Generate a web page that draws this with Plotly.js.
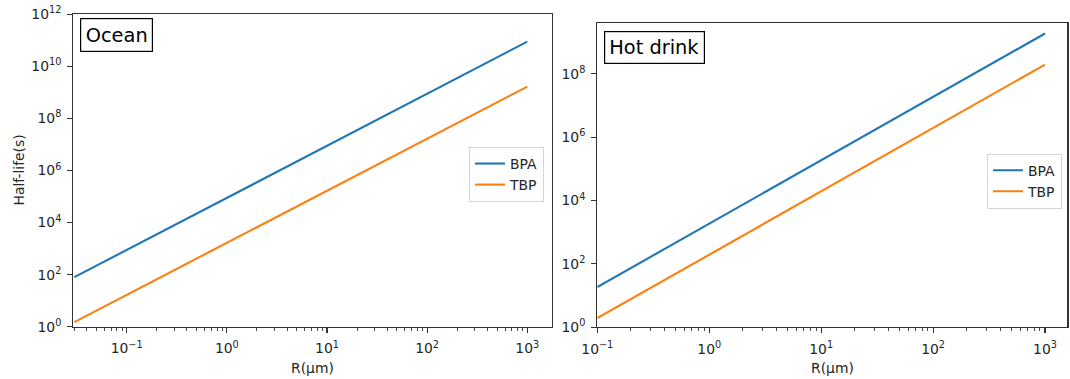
<!DOCTYPE html>
<html>
<head>
<meta charset="utf-8">
<script src="https://cdn.plot.ly/plotly-3.0.1.min.js"></script>
<style>html,body{margin:0;padding:0;background:#fff;}#chart{width:1070px;height:379px;}</style>
</head>
<body>
<div id="chart"></div>
<script>
// ---- data ----
const oceanR   = [0.03, 0.1, 1, 10, 100, 1000];
const oceanBPA = [80, 890, 8.9e4, 8.9e6, 8.9e8, 8.9e10];
const oceanTBP = [1.5, 16.6, 1660, 1.66e5, 1.66e7, 1.66e9];

const hotR   = [0.1, 1, 10, 100, 1000];
const hotBPA = [18.6, 1860, 1.86e5, 1.86e7, 1.86e9];
const hotTBP = [1.95, 195, 1.95e4, 1.95e6, 1.95e8];

const seriesNames = ["BPA", "TBP"];
const panelTitles = ["Ocean", "Hot drink"];
const xTitle = "R(μm)";
const yTitle = "Half-life(s)";

const xMajor = [0.1, 1, 10, 100, 1000];
const xMajorText = ["10<sup>−1</sup>", "10<sup>0</sup>", "10<sup>1</sup>", "10<sup>2</sup>", "10<sup>3</sup>"];
const yMajorLeft = [1, 1e2, 1e4, 1e6, 1e8, 1e10, 1e12];
const yMajorLeftText = ["10<sup>0</sup>", "10<sup>2</sup>", "10<sup>4</sup>", "10<sup>6</sup>", "10<sup>8</sup>", "10<sup>10</sup>", "10<sup>12</sup>"];
const yMajorRight = [1, 1e2, 1e4, 1e6, 1e8];
const yMajorRightText = ["10<sup>0</sup>", "10<sup>2</sup>", "10<sup>4</sup>", "10<sup>6</sup>", "10<sup>8</sup>"];

// minor ticks 2..9 in each decade
const xMinor = [];
for (let e = -2; e <= 3; e++) for (let k = 2; k <= 9; k++) xMinor.push(k * Math.pow(10, e));

const colors = ["#1f77b4", "#ff7f0e"];
const FONT = "DejaVu Sans, sans-serif";
const TXT = "#262626";
const W = 1070, H = 379;

function tr(x, y, i, xa, ya, lg) {
  return {x: x, y: y, type: "scatter", mode: "lines", name: seriesNames[i],
          xaxis: xa, yaxis: ya, legend: lg,
          line: {color: colors[i], width: 2.1}, hoverinfo: "skip"};
}
const data = [
  tr(oceanR, oceanBPA, 0, "x", "y", "legend"),
  tr(oceanR, oceanTBP, 1, "x", "y", "legend"),
  tr(hotR, hotBPA, 0, "x2", "y2", "legend2"),
  tr(hotR, hotTBP, 1, "x2", "y2", "legend2")
];

function xaxis(dom, range, anchor) {
  return {domain: dom, range: range, type: "log", anchor: anchor,
    showgrid: false, zeroline: false, showline: true, mirror: true,
    linecolor: "#333", linewidth: 1.1,
    ticks: "outside", ticklen: 5, tickwidth: 1.1, tickcolor: "#333",
    ticklabelstandoff: 4,
    tickmode: "array", tickvals: xMajor, ticktext: xMajorText,
    tickfont: {family: FONT, size: 13.9, color: TXT},
    minor: {tickmode: "array", tickvals: xMinor, ticks: "outside", ticklen: 3, tickwidth: 0.9, tickcolor: "#333", showgrid: false},
    automargin: false};
}
function yaxis(dom, range, anchor, vals, txt) {
  return {domain: dom, range: range, type: "log", anchor: anchor,
    showgrid: false, zeroline: false, showline: true, mirror: true,
    linecolor: "#333", linewidth: 1.1,
    ticks: "outside", ticklen: 5, tickwidth: 1.1, tickcolor: "#333",
    ticklabelstandoff: 3,
    tickmode: "array", tickvals: vals, ticktext: txt,
    tickfont: {family: FONT, size: 13.9, color: TXT},
    automargin: false};
}

const axTitleFont = {family: FONT, size: 13.9, color: TXT};
const layout = {
  width: W, height: H,
  margin: {l: 0, r: 0, t: 0, b: 0},
  paper_bgcolor: "#fff", plot_bgcolor: "#fff",
  font: {family: FONT, color: TXT},
  showlegend: true,
  xaxis: xaxis([73.3 / W, 551.7 / W], [Math.log10(0.0293), 3.244], "y"),
  yaxis: yaxis([1 - 326.7 / H, 1 - 14.3 / H], [0, 12], "x", yMajorLeft, yMajorLeftText),
  xaxis2: xaxis([597.3 / W, 1067.4 / W], [-1, 3.2], "y2"),
  yaxis2: yaxis([1 - 327.3 / H, 1 - 22.7 / H], [0, 9.61], "x2", yMajorRight, yMajorRightText),
  legend: {x: 544 / W, y: 1 - 147 / H, xanchor: "right", yanchor: "top",
    bgcolor: "rgba(255,255,255,0.8)", bordercolor: "#d5d5d5", borderwidth: 1,
    font: {family: FONT, size: 13.9, color: TXT}},
  legend2: {x: 1062 / W, y: 1 - 153.7 / H, xanchor: "right", yanchor: "top",
    bgcolor: "rgba(255,255,255,0.8)", bordercolor: "#d5d5d5", borderwidth: 1,
    font: {family: FONT, size: 13.9, color: TXT}},
  annotations: [
    {text: panelTitles[0], xref: "paper", yref: "paper", x: 80 / W, y: 1 - 18.3 / H,
     xanchor: "left", yanchor: "top", showarrow: false,
     font: {family: FONT, size: 19.4, color: "#000"},
     bordercolor: "#000", borderwidth: 1.2, borderpad: 4.5, bgcolor: "#fff"},
    {text: panelTitles[1], xref: "paper", yref: "paper", x: 604 / W, y: 1 - 31.4 / H,
     xanchor: "left", yanchor: "top", showarrow: false,
     font: {family: FONT, size: 19.4, color: "#000"},
     bordercolor: "#000", borderwidth: 1.2, borderpad: 4, bgcolor: "#fff"},
    // axis titles
    {text: xTitle, xref: "paper", yref: "paper", x: (73.3 + 551.7) / 2 / W, y: 1 - 368 / H,
     xanchor: "center", yanchor: "middle", showarrow: false, font: axTitleFont},
    {text: xTitle, xref: "paper", yref: "paper", x: (597.3 + 1067.4) / 2 / W, y: 1 - 368 / H,
     xanchor: "center", yanchor: "middle", showarrow: false, font: axTitleFont},
    {text: yTitle, xref: "paper", yref: "paper", x: 18 / W, y: 1 - (14.3 + 326.7) / 2 / H,
     xanchor: "center", yanchor: "middle", showarrow: false, textangle: -90, font: axTitleFont}
  ]
};

Plotly.newPlot("chart", data, layout, {staticPlot: true, displayModeBar: false});
</script>
</body>
</html>
